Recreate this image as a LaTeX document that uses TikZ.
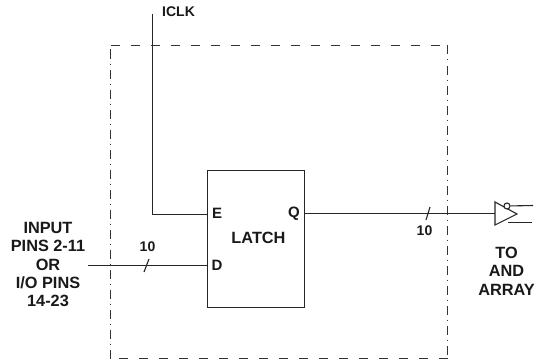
\documentclass[tikz,border=0pt]{standalone}
\usepackage{fontspec}
\setmainfont{Liberation Sans}
\usetikzlibrary{calc}
\tikzset{
 lbl/.style={inner sep=0pt,font=\bfseries\fontsize{14}{18}\selectfont,align=center,text=black!90},
 lblbig/.style={lbl,font=\bfseries\fontsize{16.3}{18.4}\selectfont},
 wire/.style={draw=black!85,line width=1.1pt},
 frame/.style={draw=black!80,line width=1pt,dash pattern=on 9pt off 11pt},
 framedd/.style={draw=black!80,line width=1pt,dash pattern=on 9pt off 5pt on 1pt off 5pt},
 tick/.style={draw=black!85,line width=1.1pt},
}
\begin{document}
\begin{tikzpicture}[x=1pt,y=-1pt]
\useasboundingbox (0,0) rectangle (543,361);
\fill[white] (0,0) rectangle (543,361);
% frame
\coordinate (ftl) at (110.5,45.5);
\coordinate (ftr) at (447.5,45.5);
\coordinate (fbr) at (447.5,358.5);
\coordinate (fbl) at (110.5,358.5);
\draw[frame] (ftl) -- (ftr);
\draw[framedd] (ftr) -- (fbr);
\draw[frame] (fbr) -- (fbl);
\draw[framedd] (fbl) -- (ftl);
% latch
\node[draw=black!85,line width=1.1pt,minimum width=97pt,minimum height=137pt,inner sep=0pt,anchor=north west] (latch) at (207,170) {};
\node[lblbig] (latchl) at (258.5,237.5) {LATCH};
\node[lbl,font=\bfseries\fontsize{15}{18}\selectfont] (e) at (217,213) {E};
\node[lbl,font=\bfseries\fontsize{15}{18}\selectfont] (d) at (217,265) {D};
\node[lbl,font=\bfseries\fontsize{15}{18}\selectfont,anchor=base] (q) at (294,217.5) {Q};
% wires
\coordinate (clk) at (152.5,14);
\coordinate (ein) at (207,214.5);
\coordinate (dstart) at (88,265.5);
\coordinate (din) at (207,265.5);
\coordinate (qout) at (304,213.5);
\coordinate (t1) at (495,202);
\coordinate (t2) at (495,225);
\coordinate (t3) at (517,214);
\coordinate (tin) at (495,213.5);
\draw[wire] (clk) |- (ein);
\draw[wire] (dstart) -- (din);
\draw[wire] (qout) -- (tin);
\node[lbl,anchor=west] (iclk) at (162,12) {ICLK};
% buffer
\draw[wire] (t1) -- (t3) -- (t2) -- cycle;
\node[draw=black!85,line width=1.1pt,fill=white,circle,minimum size=6pt,inner sep=0pt] (bub) at (507,206) {};
\coordinate (o1) at (533,205.5);
\coordinate (o2) at (508,222.5);
\coordinate (o2e) at (532,222.5);
\draw[wire] (bub) -- (o1);
\draw[wire] (o2) -- (o2e);
% ticks and bus labels
\coordinate (ta) at (149,259);
\coordinate (tb) at (144,272);
\draw[tick] (ta) -- (tb);
\coordinate (tc) at (430,207);
\coordinate (td) at (426,220);
\draw[tick] (tc) -- (td);
\node[lbl] (n10a) at (147.5,247) {10};
\node[lbl] (n10b) at (424.5,231) {10};
% side labels
\node[lblbig] (inp) at (48,264.5) {INPUT\\PINS 2-11\\OR\\I/O PINS\\14-23};
\node[lblbig] (toand) at (506.5,271) {TO\\AND\\ARRAY};
\end{tikzpicture}
\end{document}
